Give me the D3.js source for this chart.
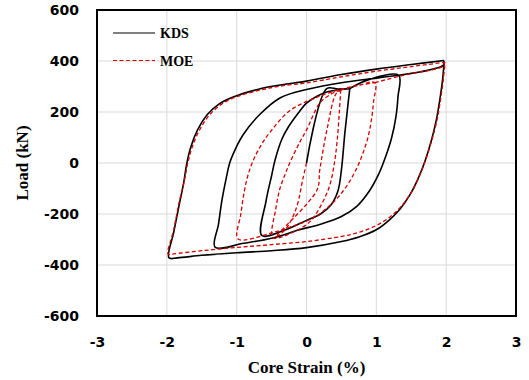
<!DOCTYPE html>
<html>
<head>
<meta charset="utf-8">
<script src="https://cdn.jsdelivr.net/npm/d3@7"></script>
<style>
  body { margin: 0; background: #fff; }
  .tick text { font-family: "DejaVu Sans", sans-serif; font-weight: bold; font-size: 14px; fill: #000; }
  .title { font-family: "Liberation Serif", "Times New Roman", serif; font-weight: bold; font-size: 17px; }
  .leg { font-family: "Liberation Serif", "Times New Roman", serif; font-weight: bold; font-size: 14px; }
</style>
</head>
<body>
<div id="chart"></div>
<script>
// Load vs core strain hysteresis, KDS and MOE loading protocols

const xTicks = [-3, -2, -1, 0, 1, 2, 3];
const yTicks = [-600, -400, -200, 0, 200, 400, 600];

// [strain %, load kN]
const kdsStart = [[0, 0], [0.29, 292], [0.45, 290], [0.62, 292]];
const kdsLoop06 = [[0.62, 292], [0.59, 220], [0.55, 120], [0.5, -27], [0.45, -110], [0.35, -165], [0.2, -200],
  [0, -225], [-0.3, -262], [-0.64, -284], [-0.58, -150], [-0.5, -50], [-0.45, 12], [-0.35, 95], [-0.26, 141],
  [-0.12, 195], [0, 235], [0.15, 262], [0.3, 279], [0.45, 287], [0.62, 292]];
const kdsLoop13 = [[0.62, 292], [0.9, 328], [1.32, 344], [1.31, 260], [1.28, 180], [1.22, 100], [1.14, 30],
  [1.04, -40], [0.9, -110], [0.72, -170], [0.5, -210], [0.2, -240], [-0.1, -262], [-0.5, -295], [-0.9, -315],
  [-1.31, -330], [-1.26, -240], [-1.21, -145], [-1.15, -60], [-1.1, 0], [-1.0, 65], [-0.91, 110], [-0.67, 190],
  [-0.38, 255], [0, 288], [0.5, 315], [1.0, 333], [1.32, 344]];
const kdsLoop20 = [[1.32, 344], [1.96, 384], [1.97, 400], [1.95, 330], [1.91, 250], [1.86, 170], [1.79, 90],
  [1.7, 10], [1.6, -60], [1.48, -125], [1.34, -180], [1.18, -225], [1.0, -262], [0.75, -290], [0.5, -308],
  [0, -332], [-0.5, -344], [-1, -352], [-1.5, -362], [-1.85, -372], [-1.97, -372], [-1.9, -270], [-1.82, -160],
  [-1.76, -80], [-1.72, -10], [-1.66, 60], [-1.56, 130], [-1.42, 190], [-1.25, 232], [-1.05, 259], [-0.65, 292],
  [-0.38, 306], [0, 321], [0.5, 347], [1.0, 368], [1.5, 386], [1.97, 402]];

const moeStart = [[0, 0], [-0.05, -60], [-0.15, -180], [-0.3, -260], [-0.44, -289], [0.15, -106], [0.19, -27],
  [0.3, 140], [0.42, 270], [0.49, 286]];
const moeLoop05 = [[0.49, 286], [0.47, 200], [0.44, 90], [0.4, 0], [0.33, -90], [0.2, -170], [0.05, -230],
  [-0.2, -272], [-0.48, -293], [-0.44, -180], [-0.38, -100], [-0.3, -40], [-0.24, 0], [-0.1, 80], [0, 129],
  [0.19, 235], [0.35, 270], [0.49, 286]];
const moeLoop10 = [[0.49, 286], [0.75, 305], [0.98, 315], [0.96, 240], [0.93, 170], [0.88, 100], [0.81, 40],
  [0.72, -20], [0.6, -80], [0.45, -135], [0.3, -175], [0.1, -215], [-0.2, -248], [-0.5, -274], [-0.98, -298],
  [-0.94, -200], [-0.89, -110], [-0.84, -50], [-0.76, 12], [-0.65, 70], [-0.53, 118], [-0.24, 205], [0.15, 258],
  [0.5, 290], [0.75, 305], [0.98, 315]];
const moeLoop20 = [[0.98, 315], [1.4, 345], [1.96, 380], [1.98, 395], [1.96, 330], [1.92, 250], [1.87, 170],
  [1.8, 95], [1.71, 15], [1.61, -55], [1.49, -120], [1.35, -172], [1.18, -215], [1.0, -245], [0.75, -272],
  [0.5, -288], [0, -308], [-0.5, -320], [-1, -331], [-1.5, -344], [-1.9, -356], [-1.98, -358], [-1.9, -260],
  [-1.82, -150], [-1.75, -70], [-1.7, 0], [-1.64, 60], [-1.54, 125], [-1.4, 185], [-1.22, 230], [-1.03, 257],
  [-0.63, 288], [-0.36, 302], [0, 314], [0.5, 338], [1.0, 360], [1.5, 378], [1.98, 395]];

const series = [
  { name: "KDS", color: "#000", dash: null, width: 1.6, paths: [kdsStart, kdsLoop06, kdsLoop13, kdsLoop20] },
  { name: "MOE", color: "#d40000", dash: "4,2.5", width: 1.3, paths: [moeStart, moeLoop05, moeLoop10, moeLoop20] }
];

const W = 529, H = 380;
const pL = 97, pR = 13, pT = 10, pB = 64;

const svg = d3.select("#chart").append("svg").
attr("width", W).
attr("height", H);

const x = d3.scaleLinear().domain([-3, 3]).range([pL, W - pR]);
const y = d3.scaleLinear().domain([-600, 600]).range([H - pB, pT]);

// grid
svg.append("g").selectAll("line").
data(xTicks.slice(1, -1)).
enter().append("line").
attr("x1", d => x(d)).attr("x2", d => x(d)).
attr("y1", pT).attr("y2", H - pB).
attr("stroke", "#d9d9d9").attr("stroke-width", 1);

svg.append("g").selectAll("line").
data(yTicks.slice(1, -1)).
enter().append("line").
attr("y1", d => y(d)).attr("y2", d => y(d)).
attr("x1", pL).attr("x2", W - pR).
attr("stroke", "#d9d9d9").attr("stroke-width", 1);

// curves
const line = d3.line().
x(d => x(d[0])).
y(d => y(d[1])).
curve(d3.curveCatmullRom.alpha(0.5));

series.forEach(s => {
  svg.append("g").selectAll("path").
  data(s.paths).
  enter().append("path").
  attr("d", line).
  attr("fill", "none").
  attr("stroke", s.color).
  attr("stroke-width", s.width).
  attr("stroke-dasharray", s.dash).
  attr("stroke-linejoin", "round");
});

// frame
svg.append("rect").
attr("x", pL).attr("y", pT).
attr("width", W - pR - pL).attr("height", H - pB - pT).
attr("fill", "none").attr("stroke", "#000").attr("stroke-width", 2);

// axes (plain hyphen for minus, as in the original)
const xAxis = svg.append("g").
attr("transform", `translate(0 ${H - pB})`).
call(d3.axisBottom(x).tickValues(xTicks).tickSize(0).tickPadding(21).tickFormat(d => String(d)));
xAxis.select(".domain").remove();

const yAxis = svg.append("g").
attr("transform", `translate(${pL} 0)`).
call(d3.axisLeft(y).tickValues(yTicks).tickSize(0).tickPadding(18).tickFormat(d => String(d)));
yAxis.select(".domain").remove();
svg.selectAll(".tick text").attr("font-family", null).attr("font-size", null);

svg.append("text").
attr("class", "title").
attr("text-anchor", "middle").
attr("x", (pL + W - pR) / 2).
attr("y", 373).
text("Core Strain (%)");

svg.append("text").
attr("class", "title").
attr("text-anchor", "middle").
attr("transform", `translate(28 ${(pT + H - pB) / 2}) rotate(-90)`).
text("Load (kN)");

// legend
const legend = svg.append("g");
series.forEach((s, i) => {
  const ly = 33 + 27.5 * i;
  legend.append("line").
  attr("x1", 113).attr("x2", 155).
  attr("y1", ly).attr("y2", ly).
  attr("stroke", s.color).
  attr("stroke-width", 1.2).
  attr("stroke-dasharray", s.dash);
  legend.append("text").
  attr("class", "leg").
  attr("x", 160).
  attr("y", ly + 5).
  text(s.name);
});
</script>
</body>
</html>
